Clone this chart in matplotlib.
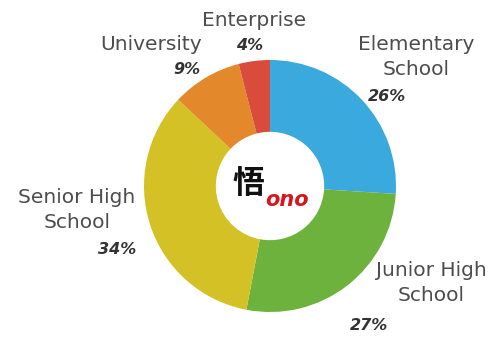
import matplotlib
matplotlib.use("Agg")
import matplotlib.pyplot as plt

categories = ["Elementary\nSchool", "Junior High\nSchool", "Senior High\nSchool", "University", "Enterprise"]
values = [26, 27, 34, 9, 4]
pct_labels = ["26%", "27%", "34%", "9%", "4%"]
colors = ["#3aa9dd", "#6cb23c", "#d4c126", "#e3892b", "#d94b3b"]

W, H = 492, 339
fig = plt.figure(figsize=(W / 100, H / 100), dpi=100)
cx, cy, R = 270, 186, 126
ax = fig.add_axes([(cx - R) / W, 1 - (cy + R) / H, 2 * R / W, 2 * R / H])
ax.pie(values, colors=colors, startangle=90, counterclock=False, radius=1.0,
       wedgeprops=dict(width=0.57, linewidth=0))
ax.set_xlim(-1, 1)
ax.set_ylim(-1, 1)
ax.set_aspect("equal")
ax.axis("off")

# label positions in pixels (name center, percent center)
name_pos = [(416, 57), (431, 283), (77, 210), (151, 44), (254, 20)]
pct_pos = [(387, 97), (369, 326), (117, 250), (187, 70), (250, 46)]

def px(x, y):
    return x / W, 1 - y / H

for name, pct, (nx, ny), (qx, qy) in zip(categories, pct_labels, name_pos, pct_pos):
    fig.text(*px(nx, ny), name, ha="center", va="center", fontsize=14.5,
             family="DejaVu Sans", color="#4d4d4d", linespacing=1.35)
    fig.text(*px(qx, qy), pct, ha="center", va="center", fontsize=11.5,
             family="DejaVu Sans", weight="bold", style="italic", color="#333333")

# center logo
fig.text(*px(248, 184), "悟", ha="center", va="center", fontsize=23,
         family=["Noto Sans CJK SC", "DejaVu Sans"], weight="bold", color="#111111")
fig.text(*px(265, 200), "ono", ha="left", va="center", fontsize=15,
         family="DejaVu Sans", weight="bold", style="italic", color="#d8141c")

fig.savefig("out.png", dpi=100)
